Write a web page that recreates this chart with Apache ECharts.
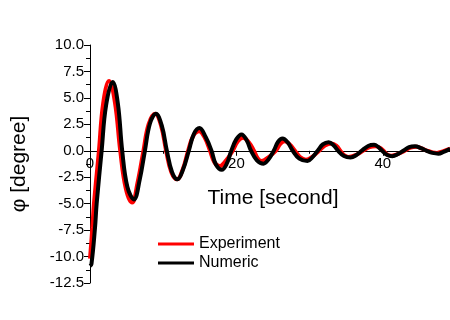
<!DOCTYPE html>
<html>
<head>
<meta charset="utf-8">
<script src="https://cdn.jsdelivr.net/npm/echarts@6/dist/echarts.min.js"></script>
<style>html,body{margin:0;padding:0;background:#fff;}#c{width:450px;height:320px;}</style>
</head>
<body>
<div id="c"></div>
<script>
var seriesNames = ['Experiment', 'Numeric'];
var experimentT = [0, 0.32, 0.54, 1.22, 1.8, 2.6, 3.4, 4.13, 4.9, 5.76, 6.5, 7.3, 8.0, 8.9, 9.7, 10.4, 11.1, 11.9, 12.7, 13.4, 14.1, 14.9, 15.7, 16.4, 17.0, 17.7, 18.6, 19.5, 20.2, 20.9, 21.7, 22.4, 22.9, 23.4, 24.4, 25.4, 26.0, 26.6, 27.3, 28.0, 28.7, 29.5, 30.4, 31.3, 32.1, 33.0, 33.7, 34.2, 34.7, 35.3, 36.3, 37.3, 38.2, 39.0, 39.6, 40.1, 40.6, 41.2, 42.1, 43.0, 43.8, 44.6, 45.4, 46.1, 46.8, 47.4, 48.2, 49.2];
var experimentV = [-10.2, -7.3, -5.0, 0, 4.5, 6.6, 4.6, 0, -3.6, -4.9, -3.0, 0, 2.5, 3.5, 2.4, 0, -2.0, -2.7, -1.7, 0, 1.4, 1.85, 1.2, 0, -1.1, -1.45, -0.9, 0, 0.9, 1.22, 0.8, 0, -0.7, -0.97, -0.6, 0, 0.65, 0.89, 0.6, 0, -0.6, -0.84, -0.55, 0, 0.5, 0.69, 0.45, 0, -0.4, -0.58, -0.4, 0, 0.35, 0.43, 0.28, 0, -0.35, -0.46, -0.3, 0, 0.3, 0.38, 0.2, 0, -0.15, -0.2, -0.05, 0.2];
var numericT = [0, 0.2, 0.68, 0.91, 1.59, 2.2, 3.1, 3.8, 4.4, 5.1, 6.0, 6.8, 7.5, 8.2, 9.0, 9.8, 10.5, 11.2, 11.95, 12.7, 13.5, 14.2, 14.95, 15.8, 16.6, 17.2, 18.0, 18.7, 19.3, 20.0, 20.7, 21.4, 22.0, 22.8, 23.7, 24.4, 25.1, 25.7, 26.3, 27.0, 27.7, 28.6, 29.7, 30.4, 31.1, 31.8, 32.6, 33.3, 33.9, 34.7, 35.6, 36.4, 37.1, 38.0, 38.8, 39.4, 39.9, 40.6, 41.3, 42.1, 42.8, 43.6, 44.4, 45.2, 46.0, 46.8, 47.6, 48.3, 49.2];
var numericV = [-10.9, -10.7, -7.3, -5.0, 0, 4.3, 6.5, 4.5, 0, -3.4, -4.6, -2.7, 0, 2.6, 3.5, 2.4, 0, -2.0, -2.7, -1.8, 0, 1.6, 2.15, 1.3, 0, -1.3, -1.8, -1.2, 0, 1.1, 1.55, 1.0, 0, -0.9, -1.22, -0.8, 0, 0.85, 1.15, 0.8, 0, -0.75, -0.97, -0.6, 0, 0.6, 0.81, 0.5, 0, -0.5, -0.64, -0.4, 0, 0.45, 0.56, 0.35, 0, -0.4, -0.51, -0.3, 0, 0.35, 0.43, 0.25, 0, -0.2, -0.27, -0.1, 0.18];
var xTickLabels = ['0', '20', '40'];
var yTickLabels = ['-12.5', '-10.0', '-7.5', '-5.0', '-2.5', '0.0', '2.5', '5.0', '7.5', '10.0'];
var xMin = 0, xMax = 50, yMin = -12.5, yMax = 10;

function pairs(ts, vs) { return ts.map(function (t, i) { return [t, vs[i]]; }); }

var font = 'Liberation Sans, Arial, sans-serif';
var W = 450, H = 320, gridTop = 45, gridBottom = 37;
var plotH = H - gridTop - gridBottom;
var zeroFromBottom = plotH * (0 - yMin) / (yMax - yMin);

var chart = echarts.init(document.getElementById('c'), null, {renderer: 'canvas'});
chart.setOption({
  animation: false,
  backgroundColor: '#ffffff',
  grid: {left: 90, right: -6, top: gridTop, bottom: gridBottom, containLabel: false, outerBoundsMode: 'none'},
  legend: {
    left: 153, top: 231, orient: 'vertical', itemWidth: 36, itemHeight: 3, itemGap: 3,
    icon: 'rect',
    textStyle: {fontFamily: font, fontSize: 16, color: '#000'},
    data: seriesNames
  },
  xAxis: {
    type: 'value', min: xMin, max: xMax, interval: 20, position: 'bottom', offset: -zeroFromBottom,
    name: 'Time [second]', nameLocation: 'middle', nameGap: 37,
    nameTextStyle: {fontFamily: font, fontSize: 21, color: '#000'},
    axisLine: {onZero: false, lineStyle: {color: '#000', width: 1}},
    axisTick: {show: true, inside: false, length: 5, lineStyle: {color: '#000'}},
    minorTick: {show: true, splitNumber: 2, length: 3, lineStyle: {color: '#000'}},
    axisLabel: {fontFamily: font, fontSize: 15, color: '#000', margin: 6, showMaxLabel: false,
      formatter: function (v) { var s = String(v); return xTickLabels.indexOf(s) >= 0 ? s : ''; }},
    splitLine: {show: false}
  },
  yAxis: {
    type: 'value', min: yMin, max: yMax, interval: 2.5,
    name: 'φ [degree]', nameLocation: 'middle', nameGap: 60, nameRotate: 90,
    nameTextStyle: {fontFamily: font, fontSize: 21, color: '#000'},
    axisLine: {onZero: false, lineStyle: {color: '#000', width: 1}},
    axisTick: {show: true, inside: false, length: 6, lineStyle: {color: '#000'}},
    minorTick: {show: true, splitNumber: 2, length: 4, lineStyle: {color: '#000'}},
    axisLabel: {fontFamily: font, fontSize: 15, color: '#000', margin: 6,
      formatter: function (v) { var s = v.toFixed(1); return yTickLabels.indexOf(s) >= 0 ? s : ''; }},
    splitLine: {show: false}
  },
  series: [
    {name: seriesNames[0], type: 'line', data: pairs(experimentT, experimentV), smooth: 0.4, symbol: 'none',
      lineStyle: {color: '#ff0000', width: 4}, itemStyle: {color: '#ff0000'}, z: 2},
    {name: seriesNames[1], type: 'line', data: pairs(numericT, numericV), smooth: 0.4, symbol: 'none',
      lineStyle: {color: '#000000', width: 4}, itemStyle: {color: '#000000'}, z: 3}
  ]
});
</script>
</body>
</html>
